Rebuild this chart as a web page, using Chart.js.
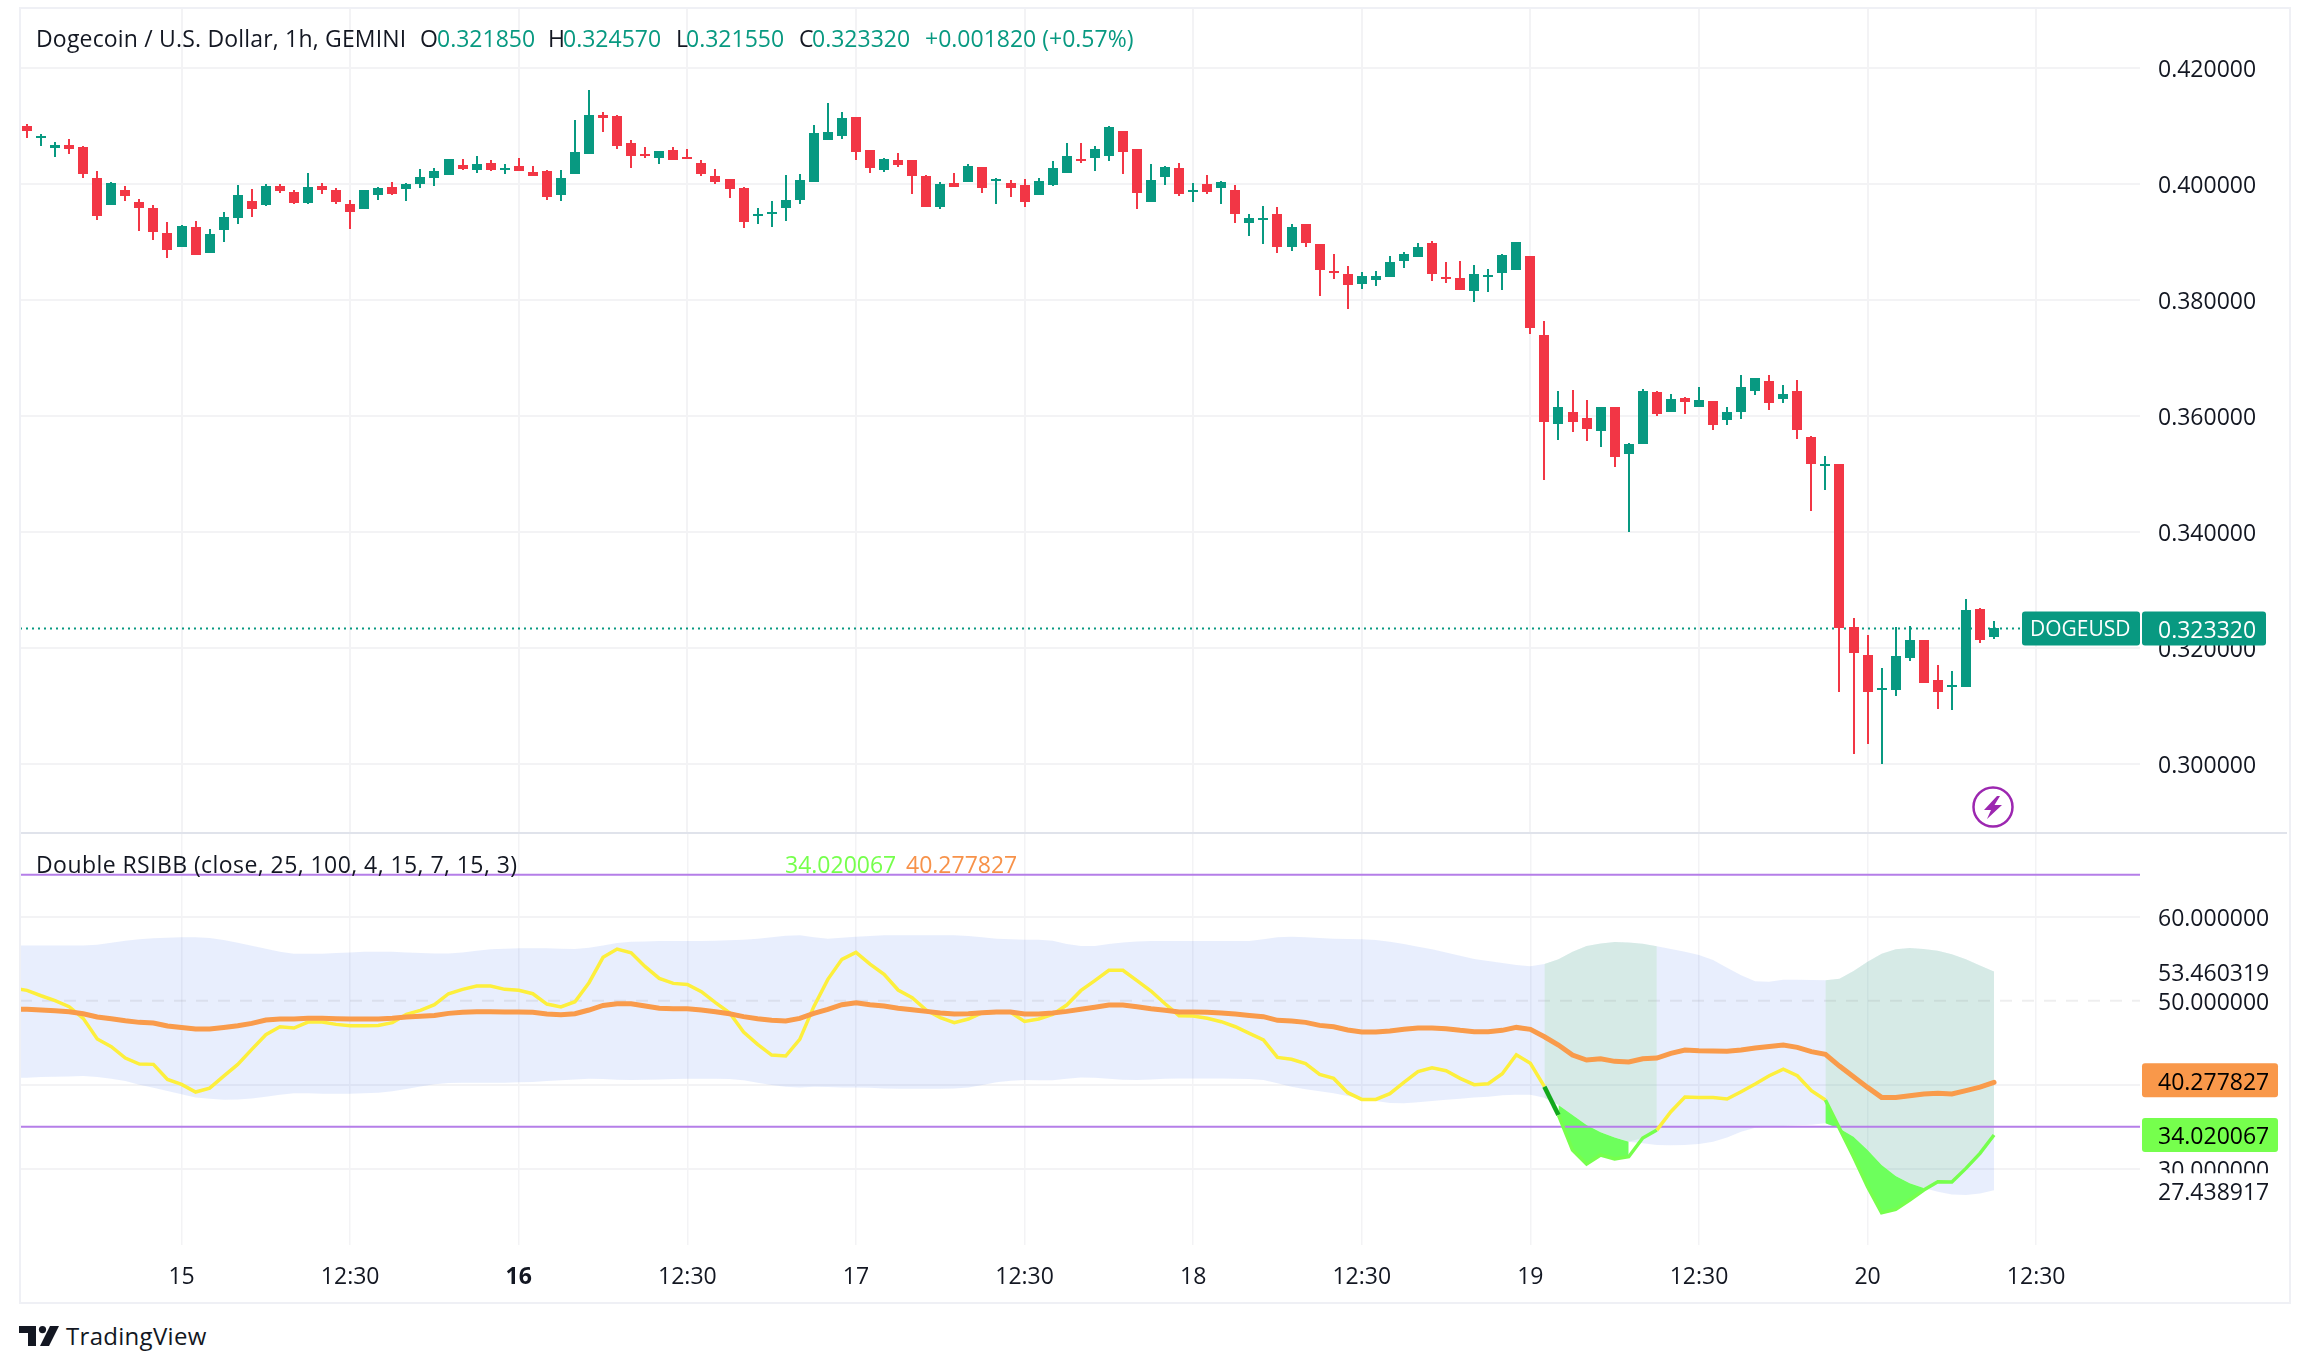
<!DOCTYPE html>
<html><head><meta charset="utf-8">
<script src="https://cdn.jsdelivr.net/npm/chart.js@4"></script>
<style>
html,body{margin:0;padding:0;background:#fff;width:2308px;height:1372px;overflow:hidden}
canvas{position:absolute;left:0}
.t{position:absolute;font:23px "Open Sans",sans-serif;color:#131722;white-space:pre;line-height:30px;z-index:5}
.g{color:#089981}
#frame{position:absolute;left:19px;top:7px;width:2268px;height:1293px;border:2px solid #eff0f5;z-index:3;pointer-events:none}
#sep{position:absolute;left:21px;top:832px;width:2266px;height:2px;background:#e0e3eb;z-index:3}
</style></head><body>
<canvas id="price" width="2308" height="833" style="top:0"></canvas>
<canvas id="rsi" width="2308" height="469" style="top:833px"></canvas>
<div id="frame"></div><div id="sep"></div>
<div class="t" style="left:36px;top:23px;letter-spacing:.18px">Dogecoin / U.S. Dollar, 1h, GEMINI</div>
<div class="t" style="left:420px;top:23px">O</div><div class="t g" style="left:437px;top:23px">0.321850</div>
<div class="t" style="left:548px;top:23px">H</div><div class="t g" style="left:563px;top:23px">0.324570</div>
<div class="t" style="left:676px;top:23px">L</div><div class="t g" style="left:686px;top:23px">0.321550</div>
<div class="t" style="left:799px;top:23px">C</div><div class="t g" style="left:812px;top:23px">0.323320</div>
<div class="t g" style="left:925px;top:23px">+0.001820 (+0.57%)</div>
<div class="t" style="left:36px;top:849px;letter-spacing:.43px">Double RSIBB (close, 25, 100, 4, 15, 7, 15, 3)</div>
<div class="t" style="left:785px;top:849px;color:#76ff4d">34.020067</div>
<div class="t" style="left:906px;top:849px;color:#f7924a">40.277827</div>
<svg style="position:absolute;left:1972px;top:786px;z-index:5" width="42" height="42" viewBox="0 0 42 42">
<circle cx="21" cy="21" r="19.5" fill="#fff" stroke="#9c27b0" stroke-width="2.5"/>
<path d="M25 10 L12 24 L19 24 L15 33 L30 19 L22.5 19 L28 10 Z" fill="#9c27b0"/></svg>
<svg style="position:absolute;left:19px;top:1326px" width="40" height="20" viewBox="0 0 40 20">
<path d="M0 0H17V20H9V7H0Z" fill="#131722"/><circle cx="23.5" cy="3.6" r="3.6" fill="#131722"/><path d="M31 0H40L30 20H21Z" fill="#131722"/></svg>
<div class="t" style="left:66px;top:1321px;font-size:24px;letter-spacing:.3px">TradingView</div>
<script>
const opens=[.40995,.40782,.40621,.40667,.40633,.40098,.39633,.39891,.39684,.39581,
.3915,.38908,.39253,.38805,.39201,.39408,.39701,.39633,.3996,.39857,
.39667,.3996,.39891,.3965,.39564,.39805,.39943,.39908,.39995,.40098,
.4015,.40322,.40236,.40357,.40236,.40305,.40201,.40219,.39805,.40167,
.40512,.41184,.41167,.40701,.40512,.40443,.40581,.4046,.40357,.40133,
.40081,.39926,.39443,.39477,.3958,.39718,.40029,.40753,.40822,.41149,
.4058,.40235,.40408,.40408,.40132,.39598,.40011,.40029,.40287,.40046,
.40011,.39977,.39804,.39977,.40184,.40425,.40442,.40477,.40908,.40598,
.39684,.40115,.4027,.39856,.39994,.39925,.39891,.39322,.39373,.39477,
.38908,.39304,.3896,.38494,.38442,.3827,.38339,.38391,.38666,.38735,
.38977,.38391,.38373,.38149,.38391,.3846,.38511,.38753,.37396,.35862,
.36069,.35965,.35741,.36155,.35345,.35517,.36414,.36069,.3631,.36155,
.36258,.35931,.36069,.36431,.36603,.36293,.36431,.35638,.35138,.35172,
.32363,.3188,.31276,.31276,.31828,.32138,.31449,.31328,.31328,.32673,
.32185];
const highs=[.41029,.40857,.40719,.4077,.4065,.40219,.40029,.3996,.39736,.39633,
.39339,.39288,.39357,.39219,.39512,.39977,.39908,.39995,.39995,.39891,
.40184,.40012,.39926,.39719,.39891,.39943,.40029,.40012,.40253,.4027,
.40426,.40426,.40477,.40408,.40339,.40443,.40305,.40236,.40236,.41098,
.41615,.41236,.41184,.40753,.40633,.40564,.40633,.40598,.40408,.40253,
.40081,.39943,.39581,.39701,.40149,.40166,.41011,.41391,.41235,.41149,
.4058,.40442,.40529,.40408,.40149,.40029,.40184,.40339,.40287,.40098,
.40063,.4008,.40098,.40391,.40701,.40701,.40649,.40994,.40908,.40598,
.40339,.40304,.40356,.40011,.40149,.40046,.39977,.39477,.39615,.39598,
.39304,.39304,.3896,.38787,.3858,.38477,.38494,.38753,.38822,.38977,
.39011,.38649,.38666,.38598,.38529,.38787,.38994,.38753,.37638,.36431,
.36448,.36276,.36155,.36155,.35534,.36465,.36431,.36379,.36327,.365,
.36258,.36155,.36707,.36655,.36707,.36534,.36621,.35655,.3531,.35172,
.32518,.32225,.31656,.32363,.3238,.32138,.31707,.31604,.32845,.3269,
.32457];
const lows=[.40788,.4065,.4046,.40512,.40098,.39374,.39633,.39701,.39184,.39029,
.38719,.38908,.3877,.38805,.38995,.39305,.39426,.39615,.39839,.3965,
.3965,.39822,.3965,.39219,.39564,.39719,.39805,.39701,.39926,.3996,
.4015,.40236,.40184,.40219,.40167,.40219,.40133,.39719,.39701,.40167,
.40512,.40891,.40598,.4027,.40443,.40339,.40408,.40426,.40133,.39995,
.39753,.39236,.39305,.39253,.39356,.39649,.40029,.40753,.4077,.40408,
.40184,.40201,.40287,.39822,.39598,.39563,.39942,.40029,.39839,.39649,
.3977,.39598,.39804,.3996,.40184,.40356,.40218,.40391,.40166,.39563,
.39684,.39977,.39787,.39684,.39822,.39649,.39322,.39098,.3896,.38804,
.38839,.38908,.38063,.38356,.37839,.38184,.38235,.38391,.38546,.38735,
.38322,.38287,.38166,.3796,.38132,.38166,.38511,.37408,.34896,.35586,
.35724,.35569,.35465,.35121,.34,.35517,.36,.36069,.36034,.36155,
.35758,.35845,.35948,.36362,.36103,.36224,.35603,.34362,.34724,.31242,
.30173,.30345,.3,.31173,.31776,.31397,.30949,.30931,.31328,.32087,
.32155];
const closes=[.40914,.40816,.40667,.40598,.40167,.39443,.40012,.39788,.39581,.39167,
.38857,.3927,.3877,.39133,.39426,.39805,.39564,.3996,.39874,.39667,
.39943,.39891,.39684,.39512,.39891,.39926,.39822,.39995,.40115,.40219,
.40426,.40253,.40339,.40236,.4027,.40219,.40133,.3977,.40098,.40546,
.41184,.41133,.4065,.40477,.40477,.40564,.40408,.40426,.40167,.40029,
.39908,.39339,.39477,.39511,.39718,.40063,.40873,.40891,.41132,.40546,
.4027,.40425,.40322,.40132,.39598,.39994,.39942,.40304,.39925,.4008,
.39925,.39684,.40046,.4027,.40477,.40391,.40598,.40977,.40546,.39839,
.40063,.40287,.39822,.39891,.39856,.40029,.39477,.39408,.39408,.38908,
.39253,.38977,.38511,.3846,.38253,.38408,.38408,.38649,.38787,.38908,
.38442,.38356,.38166,.38442,.38425,.3877,.38994,.37511,.35896,.36155,
.35896,.35776,.36155,.35293,.35517,.36431,.36034,.36293,.36241,.36276,
.35845,.36069,.365,.36655,.36224,.36379,.35758,.35172,.35172,.32345,
.31914,.31242,.31311,.31863,.32138,.31397,.31242,.31363,.32656,.32138,
.32332];
// RSI pane series: first value belongs to the candle just left of the first one
const rsiFast=[51.51,51.23,50.59,50.0,49.29,47.9,45.44,44.52,43.17,42.46,42.42,
40.63,40.04,39.13,39.6,41.03,42.42,44.2,45.95,46.9,46.75,
47.46,47.46,47.18,47.02,47.02,47.06,47.38,48.37,48.85,49.52,
50.83,51.35,51.75,51.75,51.35,51.23,50.83,49.6,49.25,49.88,
52.14,55.16,56.15,55.71,54.05,52.66,52.06,51.94,51.07,49.76,
48.57,46.27,44.8,43.53,43.41,45.4,49.29,52.54,54.92,55.75,
54.36,53.13,51.27,50.36,48.89,47.98,47.38,47.82,48.57,48.61,
48.61,47.54,47.82,48.37,49.48,51.19,52.38,53.61,53.61,52.38,
51.15,49.64,48.22,48.18,47.9,47.5,46.9,46.11,45.32,43.25,
43.02,42.5,41.23,40.75,39.05,38.25,38.25,38.93,40.28,41.55,
42.02,41.67,40.75,40.0,40.12,41.31,43.57,42.54,39.76,36.39,
32.22,30.55,31.63,31.15,31.43,33.65,34.6,36.78,38.53,38.49,
38.49,38.29,39.17,40.08,41.07,41.86,41.07,39.29,38.17,34.8,
31.43,27.86,24.76,25.16,26.27,27.46,28.45,28.41,30.04,31.83,34.02];
const rsiSlow=[49.01,48.97,48.89,48.81,48.69,48.45,48.06,47.86,47.62,47.42,47.34,
46.98,46.82,46.63,46.63,46.82,47.02,47.3,47.7,47.82,47.82,
47.9,47.9,47.86,47.82,47.82,47.82,47.9,48.06,48.14,48.25,
48.49,48.61,48.69,48.69,48.65,48.65,48.61,48.41,48.33,48.45,
48.89,49.44,49.64,49.64,49.36,49.09,49.05,49.05,48.89,48.69,
48.45,48.1,47.86,47.66,47.58,47.9,48.49,48.97,49.52,49.76,
49.52,49.36,49.09,48.93,48.73,48.53,48.41,48.45,48.57,48.65,
48.65,48.41,48.41,48.53,48.73,48.97,49.21,49.48,49.48,49.29,
49.05,48.85,48.65,48.65,48.61,48.53,48.41,48.25,48.1,47.66,
47.58,47.42,47.06,46.9,46.51,46.27,46.27,46.39,46.59,46.75,
46.75,46.67,46.47,46.31,46.31,46.47,46.82,46.59,45.71,44.72,
43.53,42.94,43.09,42.78,42.7,43.09,43.17,43.73,44.13,44.05,
44.01,43.97,44.13,44.37,44.56,44.72,44.44,43.93,43.61,42.22,
40.95,39.68,38.49,38.49,38.69,38.89,38.97,38.89,39.29,39.72,40.28];
const bbUpper=[56.58,56.58,56.58,56.58,56.58,56.58,56.66,56.9,57.14,57.3,57.42,
57.5,57.54,57.54,57.46,57.22,56.9,56.55,56.19,55.83,55.59,
55.59,55.59,55.67,55.75,55.83,55.83,55.83,55.75,55.67,55.63,
55.63,55.75,55.95,56.11,56.19,56.23,56.23,56.23,56.19,56.15,
56.31,56.58,56.86,57.02,57.06,57.1,57.1,57.1,57.1,57.14,
57.18,57.26,57.38,57.54,57.74,57.78,57.54,57.38,57.5,57.62,
57.7,57.78,57.78,57.78,57.78,57.78,57.78,57.7,57.54,57.38,
57.3,57.26,57.26,57.14,56.74,56.5,56.5,56.74,56.94,57.06,
57.1,57.1,57.1,57.1,57.1,57.1,57.1,57.1,57.3,57.54,
57.62,57.54,57.46,57.38,57.34,57.3,57.22,57.02,56.74,56.43,
56.11,55.75,55.36,54.96,54.72,54.48,54.24,54.09,54.36,54.92,
55.83,56.5,56.82,56.98,56.94,56.78,56.47,56.15,55.83,55.44,
54.84,53.93,53.02,52.3,52.26,52.5,52.5,52.46,52.42,52.62,
53.53,54.64,55.59,56.11,56.27,56.15,55.95,55.52,54.92,54.2,53.46];
const bbLower=[40.83,40.83,40.91,40.95,40.99,41.03,40.91,40.71,40.43,40.0,39.64,
39.25,38.85,38.49,38.33,38.21,38.25,38.37,38.57,38.81,38.97,
38.97,38.93,38.93,38.93,38.97,39.05,39.21,39.49,39.8,40.04,
40.2,40.24,40.24,40.24,40.24,40.28,40.32,40.43,40.52,40.63,
40.71,40.67,40.6,40.56,40.6,40.63,40.67,40.71,40.71,40.71,
40.67,40.52,40.24,39.96,39.76,39.68,39.76,39.72,39.68,39.68,
39.64,39.56,39.52,39.52,39.52,39.52,39.56,39.68,39.96,40.28,
40.48,40.56,40.52,40.52,40.71,40.87,40.83,40.71,40.6,40.56,
40.63,40.71,40.75,40.75,40.75,40.75,40.71,40.67,40.56,40.16,
39.76,39.45,39.21,38.97,38.65,38.37,38.05,37.82,37.78,37.9,
38.05,38.21,38.33,38.49,38.57,38.73,38.81,38.81,38.45,37.58,
36.39,35.2,34.33,33.73,33.22,33.02,32.82,32.78,32.82,32.94,
33.22,33.73,34.41,34.88,35.0,35.08,35.16,35.24,35.4,34.8,
33.81,32.22,30.43,29.13,28.26,27.7,27.26,26.94,26.87,27.06,27.44];
const priceTicks=[.42,.40,.38,.36,.34,.32,.30];
const rsiTicks=[60,50,40,30];
const timeTickIndex=[11,23,35,47,59,71,83,95,107,119,131,143];
const timeLabels=["15","12:30","16","12:30","17","12:30","18","12:30","19","12:30","20","12:30"];
const tealZones=[[108,116],[128,140]];
const greenZones=[[109,114],[128,135]];
const rsiBands=[65,35];
const rsiMid=50;
const lastPrice=.32332, symbol="DOGEUSD";
const lastLabels={upper:"53.460319",lower:"27.438917",slow:"40.277827",fast:"34.020067"};
const xMin=-0.498,xMax=150.39;

const FONT='"Open Sans",sans-serif', INK='#131722', UP='#089981', DOWN='#F23645', GRID='#f3f3f5', TXT=3;
Chart.defaults.font.family=FONT;Chart.defaults.font.size=23;Chart.defaults.color=INK;
const updown=closes.map((c,i)=>c>=opens[i]?UP:DOWN);
const noPad=s=>{s.paddingTop=s.paddingBottom=s.paddingLeft=s.paddingRight=0;};
const box=(ctx,l,t,r,b,c)=>{ctx.fillStyle=c;ctx.beginPath();ctx.roundRect(l,t,r-l,b-t,3);ctx.fill();};
const crisp={id:'crisp',beforeDatasetsDraw(ch){ch.getSortedVisibleDatasetMetas().forEach(m=>{if(m.type==='bar')m.data.forEach(e=>{e.x=Math.round(e.x);e.y=Math.round(e.y);e.base=Math.round(e.base);});});}};
const nudge={id:'nudge',beforeDraw(ch){const s=ch.scales.y;if(s._nudged)return;s._nudged=true;s.getLabelItems(ch.chartArea).forEach(it=>{it.options.translation=[it.options.translation[0],it.options.translation[1]+TXT];});}};
const priceLabels={id:'priceLabels',afterDraw(ch){const c=ch.ctx,y=ch.scales.y.getPixelForValue(lastPrice);c.save();
 box(c,2022,y-17,2140,y+17,UP);box(c,2142,y-17,2266,y+17,UP);
 c.fillStyle='#fff';c.textBaseline='middle';c.textAlign='left';
 c.font='21px '+FONT;c.fillText(symbol,2030,y+TXT-1);c.font='23px '+FONT;c.fillText(lastPrice.toFixed(6),2158,y+TXT);c.restore();}};
const rsiLabels={id:'rsiLabels',afterDraw(ch){const c=ch.ctx,s=ch.scales.y;c.save();c.font='23px '+FONT;c.textBaseline='middle';c.textAlign='left';
 const a=s.getPixelForValue(bbUpper[bbUpper.length-1]),b=s.getPixelForValue(bbLower[bbLower.length-1]);
 const o=s.getPixelForValue(rsiSlow[rsiSlow.length-1])-2,g=s.getPixelForValue(rsiFast[rsiFast.length-1]);
 c.fillStyle='#fff';c.fillRect(2142,a-17,136,34);c.fillRect(2142,b-17,136,34);
 box(c,2142,o-17,2278,o+17,'#F9984A');box(c,2142,g-17,2278,g+17,'#76FF4D');
 c.fillStyle=INK;c.fillText(lastLabels.upper,2158,a+TXT);c.fillText(lastLabels.lower,2158,b+TXT);
 c.fillStyle='#000';c.fillText(lastLabels.slow,2158,o+TXT);c.fillText(lastLabels.fast,2158,g+TXT);c.restore();}};

new Chart(document.getElementById('price'),{type:'bar',plugins:[crisp,nudge,priceLabels],
 data:{datasets:[
  {type:'line',order:5,data:[{x:xMin,y:lastPrice},{x:xMax,y:lastPrice}],borderColor:UP,borderWidth:2,borderDash:[2,4],pointRadius:0},
  {label:'wick',order:2,data:highs.map((h,i)=>({x:i,y:[lows[i],h]})),backgroundColor:updown,barThickness:2,grouped:false,borderWidth:0,inflateAmount:0},
  {label:'body',order:1,data:opens.map((o,i)=>({x:i,y:[o,closes[i]]})),backgroundColor:updown,barThickness:10,grouped:false,borderWidth:0,inflateAmount:0}
 ]},
 options:{responsive:false,animation:false,events:[],layout:{padding:{left:20,right:20,top:8,bottom:0}},
  plugins:{legend:{display:false},tooltip:{enabled:false}},
  scales:{
   x:{type:'linear',offset:false,min:xMin,max:xMax,border:{display:false},grid:{offset:false,color:GRID,lineWidth:2,drawTicks:false},ticks:{display:false},
    afterBuildTicks:s=>{s.ticks=timeTickIndex.map(v=>({value:v}));},afterFit:s=>{s.height=0;noPad(s);}},
   y:{position:'right',min:.28805,max:.43029,border:{display:false},grid:{color:GRID,lineWidth:2,drawTicks:false},
    ticks:{padding:18,crossAlign:'near',callback:v=>v.toFixed(6)},
    afterBuildTicks:s=>{s.ticks=priceTicks.map(v=>({value:v}));},afterFit:s=>{s.width=148;noPad(s);}}
  }}});

const pts=a=>a.map((v,k)=>({x:k-1,y:v}));
const inZones=(i,z)=>z.some(([a,b])=>i>=a&&i<=b);
const masked=(a,z)=>a.map((v,k)=>inZones(k-1,z)?v:null);
const tealBottom=bbLower.map((v,k)=>{const i=k-1;if(!inZones(i,tealZones))return null;return tealZones.some(z=>z[0]===i)?v:Math.max(v,rsiFast[k]);});
const fastColor=c=>{const i=c.p0.parsed.x;if(i===108)return '#12a81c';return (i>=109&&i<116)||i>=128?'#76FF4D':'#FDEF3C';};
new Chart(document.getElementById('rsi'),{type:'line',
 plugins:[nudge,rsiLabels],
 data:{datasets:[
  {label:'band',order:20,data:pts(bbUpper),borderWidth:0,pointRadius:0,fill:1,backgroundColor:'rgba(45,100,235,0.11)'},
  {label:'bandLow',order:19,data:pts(bbLower),borderWidth:0,pointRadius:0,fill:false},
  {label:'teal',order:18,data:pts(masked(bbUpper,tealZones)),borderWidth:0,pointRadius:0,fill:3,backgroundColor:'rgba(141,222,142,0.2)'},
  {label:'tealLow',order:17,data:pts(tealBottom),borderWidth:0,pointRadius:0,fill:false},
  {label:'green',order:16,data:pts(masked(bbLower,greenZones)),borderWidth:0,pointRadius:0,fill:5,backgroundColor:'#6DFF5C'},
  {label:'greenLow',order:15,data:pts(masked(rsiFast,greenZones)),borderWidth:0,pointRadius:0,fill:false},
  {label:'mid',order:14,data:[{x:xMin,y:rsiMid},{x:xMax,y:rsiMid}],borderColor:'rgba(120,123,134,0.13)',borderWidth:2,borderDash:[12,10],pointRadius:0,fill:false},
  {label:'hi',order:13,data:[{x:xMin,y:rsiBands[0]},{x:xMax,y:rsiBands[0]}],borderColor:'#B57EE8',borderWidth:2,pointRadius:0,fill:false},
  {label:'lo',order:12,data:[{x:xMin,y:rsiBands[1]},{x:xMax,y:rsiBands[1]}],borderColor:'#B57EE8',borderWidth:2,pointRadius:0,fill:false},
  {label:'fast',order:2,data:pts(rsiFast),borderColor:'#FDEF3C',borderWidth:3.5,pointRadius:0,fill:false,
   segment:{borderColor:fastColor,borderWidth:c=>c.p0.parsed.x===108?4.5:3.5}},
  {label:'slow',order:1,data:pts(rsiSlow),borderColor:'#F99B4B',borderWidth:5,pointRadius:0,fill:false,borderCapStyle:'round'}
 ]},
 options:{responsive:false,animation:false,events:[],layout:{padding:{left:20,right:20,top:0,bottom:0}},
  plugins:{legend:{display:false},tooltip:{enabled:false}},
  scales:{
   x:{type:'linear',min:xMin,max:xMax,border:{display:false},grid:{color:GRID,lineWidth:1.5,drawTicks:false},
    ticks:{autoSkip:false,maxRotation:0,padding:19,color:INK,
     callback:v=>timeLabels[timeTickIndex.indexOf(v)],
     font:c=>c.tick&&c.tick.label==='16'?{family:FONT,size:23,weight:'bold'}:{family:FONT,size:23}},
    afterBuildTicks:s=>{s.ticks=timeTickIndex.map(v=>({value:v}));},afterFit:s=>{s.height=57;noPad(s);}},
   y:{position:'right',min:20.92,max:69.96,border:{display:false},
    grid:{color:c=>c.tick.value===rsiMid?'transparent':GRID,lineWidth:2,drawTicks:false},
    ticks:{padding:18,crossAlign:'near',callback:v=>v.toFixed(6)},
    afterBuildTicks:s=>{s.ticks=rsiTicks.map(v=>({value:v}));},afterFit:s=>{s.width=148;noPad(s);}}
  }}});
</script></body></html>
